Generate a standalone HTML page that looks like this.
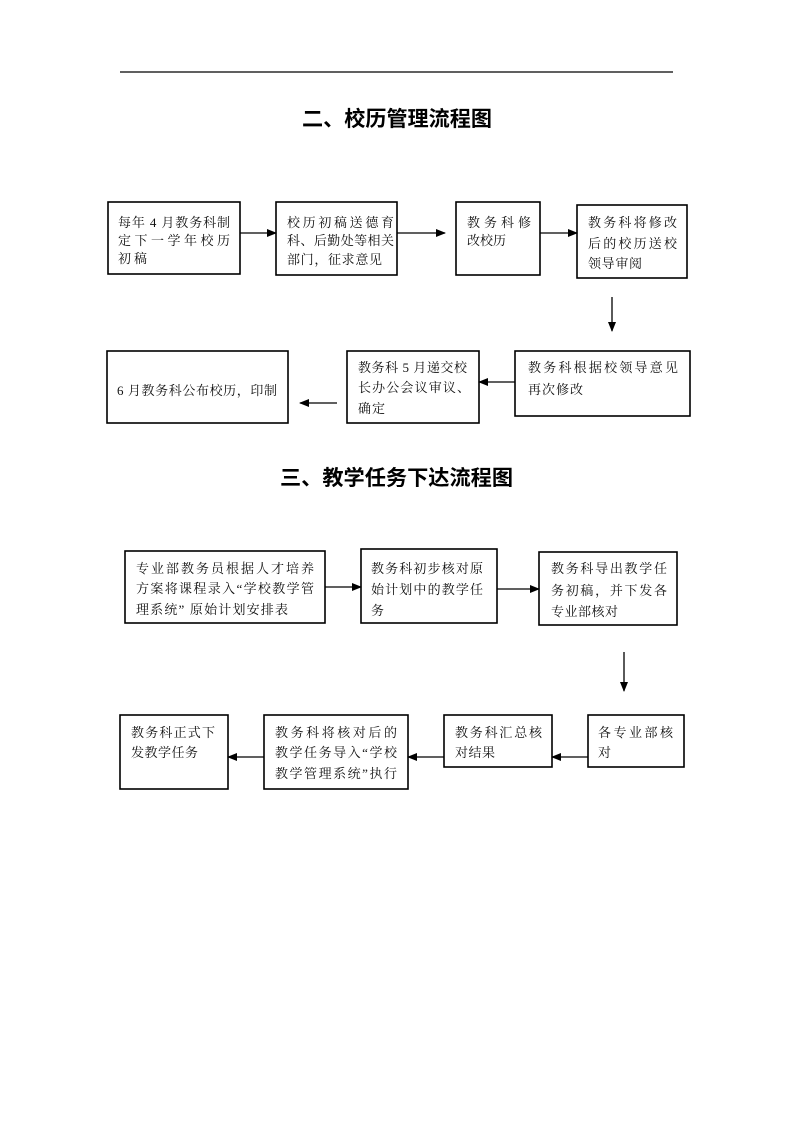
<!DOCTYPE html>
<html>
<head>
<meta charset="utf-8">
<style>
html,body{margin:0;padding:0;background:#fff;}
svg{display:block;}
.t{font-family:"Liberation Serif","Noto Serif CJK SC",serif;font-size:13px;fill:#111;}
.h{font-family:"Liberation Sans","Noto Sans CJK SC",sans-serif;font-size:21px;font-weight:bold;fill:#000;}
</style>
</head>
<body>
<svg width="793" height="1122" viewBox="0 0 793 1122" xmlns="http://www.w3.org/2000/svg">
<defs>
<marker id="ah" markerWidth="10" markerHeight="8" refX="9" refY="4" orient="auto" markerUnits="userSpaceOnUse">
<path d="M0,0 L10,4 L0,8 Z" fill="#000"/>
</marker>
</defs>

<!-- top rule -->
<line x1="120" y1="72" x2="673" y2="72" stroke="#000" stroke-width="1.3"/>

<!-- Title 2 -->
<text class="h" x="302" y="126" textLength="190" lengthAdjust="spacingAndGlyphs">二、校历管理流程图</text>

<g fill="none" stroke="#000" stroke-width="1.6">
<rect x="108" y="202" width="132" height="72"/>
<rect x="276" y="202" width="121" height="73"/>
<rect x="456" y="202" width="84" height="73"/>
<rect x="577" y="205" width="110" height="73"/>
<rect x="515" y="351" width="175" height="65"/>
<rect x="347" y="351" width="132" height="72"/>
<rect x="107" y="351" width="181" height="72"/>

<rect x="125" y="551" width="200" height="72"/>
<rect x="361" y="549" width="136" height="74"/>
<rect x="539" y="552" width="138" height="73"/>
<rect x="588" y="715" width="96" height="52"/>
<rect x="444" y="715" width="108" height="52"/>
<rect x="264" y="715" width="144" height="74"/>
<rect x="120" y="715" width="108" height="74"/>
</g>

<g stroke="#000" stroke-width="1.3" marker-end="url(#ah)">
<line x1="240" y1="233" x2="276" y2="233"/>
<line x1="397" y1="233" x2="445" y2="233"/>
<line x1="540" y1="233" x2="577" y2="233"/>
<line x1="612" y1="297" x2="612" y2="331"/>
<line x1="515" y1="382" x2="479" y2="382"/>
<line x1="337" y1="403" x2="300" y2="403"/>

<line x1="325" y1="587" x2="361" y2="587"/>
<line x1="497" y1="589" x2="539" y2="589"/>
<line x1="624" y1="652" x2="624" y2="691"/>
<line x1="588" y1="757" x2="552" y2="757"/>
<line x1="444" y1="757" x2="408" y2="757"/>
<line x1="264" y1="757" x2="228" y2="757"/>
</g>

<!-- Row 1 text -->
<text class="t" x="118" y="227" textLength="112" lengthAdjust="spacing">每年 4 月教务科制</text>
<text class="t" x="118" y="245" textLength="112" lengthAdjust="spacing">定下一学年校历</text>
<text class="t" x="118" y="263" textLength="29" lengthAdjust="spacing">初稿</text>

<text class="t" x="287" y="227" textLength="107" lengthAdjust="spacing">校历初稿送德育</text>
<text class="t" x="287" y="245" textLength="107" lengthAdjust="spacing">科、后勤处等相关</text>
<text class="t" x="287" y="264" textLength="95" lengthAdjust="spacing">部门，征求意见</text>

<text class="t" x="467" y="227" textLength="64" lengthAdjust="spacing">教务科修</text>
<text class="t" x="467" y="245" textLength="39" lengthAdjust="spacing">改校历</text>

<text class="t" x="588" y="227" textLength="89" lengthAdjust="spacing">教务科将修改</text>
<text class="t" x="588" y="248" textLength="89" lengthAdjust="spacing">后的校历送校</text>
<text class="t" x="588" y="268" textLength="54" lengthAdjust="spacing">领导审阅</text>

<!-- Row 2 text -->
<text class="t" x="528" y="372" textLength="150" lengthAdjust="spacing">教务科根据校领导意见</text>
<text class="t" x="528" y="394" textLength="55" lengthAdjust="spacing">再次修改</text>

<text class="t" x="358" y="372" textLength="109" lengthAdjust="spacing">教务科 5 月递交校</text>
<text class="t" x="358" y="392" textLength="112" lengthAdjust="spacing">长办公会议审议、</text>
<text class="t" x="358" y="413" textLength="27" lengthAdjust="spacing">确定</text>

<text class="t" x="117" y="395" textLength="160" lengthAdjust="spacing">6 月教务科公布校历，印制</text>

<!-- Title 3 -->
<text class="h" x="280" y="485" textLength="233" lengthAdjust="spacingAndGlyphs">三、教学任务下达流程图</text>

<!-- Row 3 text -->
<text class="t" x="136" y="573" textLength="178" lengthAdjust="spacing">专业部教务员根据人才培养</text>
<text class="t" x="136" y="593" textLength="178" lengthAdjust="spacing">方案将课程录入“学校教学管</text>
<text class="t" x="136" y="614" textLength="152" lengthAdjust="spacing">理系统” 原始计划安排表</text>

<text class="t" x="371" y="573" textLength="112" lengthAdjust="spacing">教务科初步核对原</text>
<text class="t" x="371" y="594" textLength="112" lengthAdjust="spacing">始计划中的教学任</text>
<text class="t" x="371" y="615">务</text>

<text class="t" x="551" y="573" textLength="116" lengthAdjust="spacing">教务科导出教学任</text>
<text class="t" x="551" y="595" textLength="116" lengthAdjust="spacing">务初稿，并下发各</text>
<text class="t" x="551" y="616" textLength="67" lengthAdjust="spacing">专业部核对</text>

<!-- Row 4 text -->
<text class="t" x="131" y="737" textLength="84" lengthAdjust="spacing">教务科正式下</text>
<text class="t" x="131" y="757" textLength="67" lengthAdjust="spacing">发教学任务</text>

<text class="t" x="275" y="737" textLength="122" lengthAdjust="spacing">教务科将核对后的</text>
<text class="t" x="275" y="757" textLength="122" lengthAdjust="spacing">教学任务导入“学校</text>
<text class="t" x="275" y="778" textLength="122" lengthAdjust="spacing">教学管理系统”执行</text>

<text class="t" x="455" y="737" textLength="87" lengthAdjust="spacing">教务科汇总核</text>
<text class="t" x="455" y="757" textLength="40" lengthAdjust="spacing">对结果</text>

<text class="t" x="598" y="737" textLength="75" lengthAdjust="spacing">各专业部核</text>
<text class="t" x="598" y="757">对</text>
</svg>
</body>
</html>
